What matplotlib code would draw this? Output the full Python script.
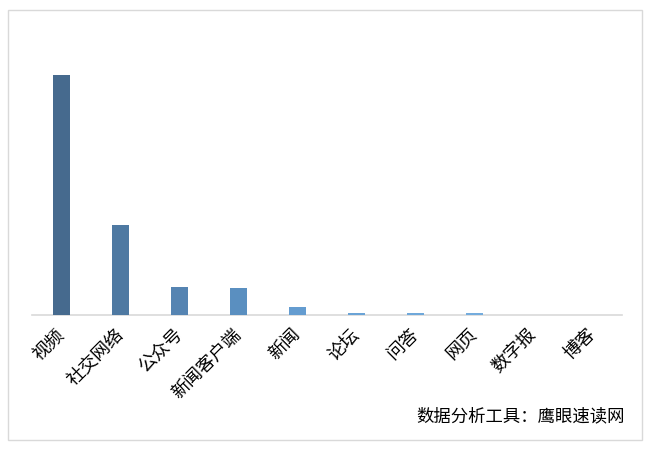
import matplotlib
matplotlib.use("Agg")
import matplotlib.pyplot as plt
from matplotlib.patches import Rectangle

plt.rcParams['font.family'] = ['Noto Sans CJK SC', 'DejaVu Sans']

categories = ["视频", "社交网络", "公众号", "新闻客户端", "新闻", "论坛", "问答", "网页", "数字报", "博客"]
values = [240, 90, 28, 27, 8, 2.5, 2.5, 2.5, 0, 0]
colors = ["#466a8e", "#4e79a2", "#5584b2", "#5a8fc0", "#649cd0",
          "#6aa3d6", "#6fa8da", "#74acdd", "#78b0e0", "#7cb3e2"]

W, H = 657, 450
fig = plt.figure(figsize=(W / 100, H / 100), dpi=100)
fig.patches.append(Rectangle((8 / W, 1 - 440 / H), 634 / W, 430 / H,
                             transform=fig.transFigure, fill=False,
                             edgecolor="#d9d9d9", lw=1))

ax = fig.add_axes([32 / W, 1 - 315 / H, 590 / W, 275 / H])
x = range(len(categories))
ax.bar(x, values, width=0.28, color=colors, zorder=3)
ax.set_xlim(-0.5, len(categories) - 0.5)
ax.set_ylim(0, 275)
ax.set_yticks([])
for s in ["top", "right", "left"]:
    ax.spines[s].set_visible(False)
ax.spines["bottom"].set_color("#d9d9d9")
ax.spines["bottom"].set_linewidth(1.2)
ax.spines["bottom"].set_zorder(1)
ax.set_xticks(list(x))
ax.set_xticklabels(categories, rotation=45, ha="right", va="center",
                   rotation_mode="anchor", fontsize=13)
ax.tick_params(axis="x", length=0, pad=12)

fig.text(625 / W, 1 - 416 / H, "数据分析工具：鹰眼速读网", ha="right", va="center",
         fontsize=12.5)

fig.savefig("out.png", dpi=100)
